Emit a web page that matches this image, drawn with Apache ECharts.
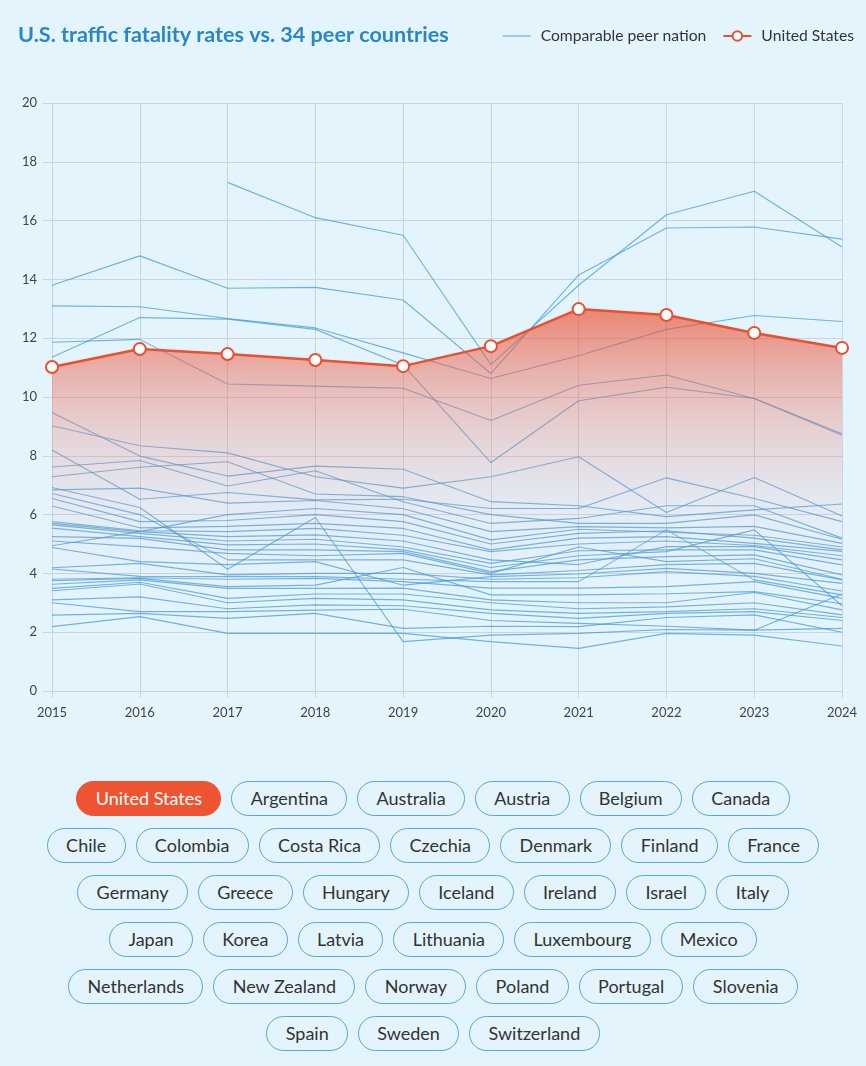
<!DOCTYPE html>
<html>
<head>
<meta charset="utf-8">
<script src="https://cdn.jsdelivr.net/npm/echarts@6/dist/echarts.min.js"></script>
<style>
html, body { margin: 0; padding: 0; background: #e3f4fd; font-family: Lato, "Noto Sans", sans-serif; }
#chart { width: 866px; height: 750px; }
#pills { position: absolute; left: 0; top: 781px; width: 866px; }
.row { display: flex; justify-content: center; align-items: flex-start; gap: 10px; height: 47px; }
.pill { height: 33px; line-height: 33px; padding: 0 18.3px; border: 1.5px solid #58a7d5; border-radius: 19px;
        font-size: 18px; color: #333; white-space: nowrap; }
.pill.on { background: #ef5432; border-color: #ef5432; color: #fff; }
</style>
</head>
<body>
<div id="chart"></div>
<div id="pills"></div>
<script>
var years = ['2015', '2016', '2017', '2018', '2019', '2020', '2021', '2022', '2023', '2024'];
var yTicks = { min: 0, max: 20, interval: 2 };

// United States, deaths per 100k
var usRates = [11.02, 11.63, 11.46, 11.26, 11.05, 11.73, 12.99, 12.79, 12.18, 11.67];

// 34 peer nations (one line each)
var peerRates = [
    [null, null, 17.3, 16.1, 15.5, 11.1, 13.8, 16.2, 17.0, 15.1],
    [13.8, 14.8, 13.7, 13.73, 13.3, 10.8, 14.15, 15.75, 15.78, 15.37],
    [13.1, 13.07, 12.67, 12.35, 11.5, 10.63, 11.4, 12.3, 12.77, 12.57],
    [11.35, 12.7, 12.65, 12.3, 11.09, 7.77, 9.87, 10.33, 9.95, 8.7],
    [11.86, 11.96, 10.44, 10.37, 10.3, 9.2, 10.4, 10.75, 9.95, 8.75],
    [9.47, 7.99, 7.31, 7.65, 7.54, 6.44, 6.3, 5.93, 6.16, 6.36],
    [9.02, 8.34, 8.1, 7.29, 6.9, 7.29, 7.97, 6.07, 7.26, 5.95],
    [8.2, 6.52, 6.75, 6.5, 6.52, 6.21, 6.21, 7.25, 6.55, 5.76],
    [7.62, 7.84, 6.97, 7.49, 6.44, 5.7, 5.87, 6.3, 6.3, 5.2],
    [7.29, 7.61, 7.8, 6.7, 6.61, 6.0, 5.7, 5.7, 5.99, 5.16],
    [6.92, 6.24, 4.14, 5.9, 1.68, 1.9, 1.96, 2.09, 2.07, 2.13],
    [6.84, 6.9, 6.39, 6.48, 6.2, 5.42, 5.59, 5.55, 5.6, 5.02],
    [4.94, 5.42, 6.0, 6.21, 6.0, 5.14, 5.5, 5.4, 5.3, 4.9],
    [6.55, 5.76, 5.8, 6.0, 5.76, 5.0, 5.36, 5.45, 5.2, 4.8],
    [6.29, 5.55, 5.6, 5.7, 5.53, 4.8, 5.2, 5.25, 5.02, 4.75],
    [5.76, 5.45, 5.42, 5.53, 5.3, 4.74, 5.0, 5.1, 4.95, 4.6],
    [5.7, 5.42, 5.25, 5.31, 5.1, 4.46, 4.3, 4.91, 4.91, 4.46],
    [5.65, 5.36, 5.1, 5.16, 4.9, 4.34, 4.77, 4.8, 4.8, 4.29],
    [5.54, 5.25, 4.97, 5.0, 4.8, 4.2, 4.6, 4.74, 5.48, 2.9],
    [5.25, 5.19, 4.8, 4.8, 4.74, 4.06, 4.46, 4.57, 4.63, 3.95],
    [5.1, 4.91, 4.68, 4.6, 4.68, 4.0, 4.9, 4.4, 4.5, 3.8],
    [6.72, 6.0, 4.46, 4.46, 4.46, 3.95, 4.1, 4.3, 4.34, 3.78],
    [4.88, 4.4, 4.3, 4.4, 3.6, 3.89, 3.98, 4.17, 4.0, 3.66],
    [4.19, 4.34, 3.95, 4.0, 4.0, 3.8, 3.85, 4.06, 3.9, 3.4],
    [4.15, 3.9, 3.89, 3.89, 3.8, 3.72, 3.72, 5.48, 3.78, 3.27],
    [3.8, 3.85, 3.8, 3.83, 3.72, 3.5, 3.5, 3.55, 3.72, 3.15],
    [3.75, 3.83, 3.55, 3.6, 4.2, 3.27, 3.27, 3.31, 3.38, 2.97],
    [3.63, 3.78, 3.49, 3.49, 3.5, 3.1, 3.0, 3.0, 3.35, 2.76],
    [3.49, 3.7, 3.15, 3.3, 3.3, 3.0, 2.8, 2.86, 3.0, 2.59],
    [3.41, 3.64, 3.0, 3.15, 3.1, 2.76, 2.64, 2.7, 2.8, 2.5],
    [3.1, 3.2, 2.8, 2.93, 2.9, 2.64, 2.47, 2.64, 2.7, 2.4],
    [3.0, 2.7, 2.7, 2.75, 2.78, 2.4, 2.3, 2.2, 2.07, 3.3],
    [2.58, 2.64, 2.47, 2.64, 2.13, 2.2, 2.19, 2.5, 2.59, 2.0],
    [2.19, 2.53, 1.96, 1.96, 1.96, 1.68, 1.45, 1.96, 1.9, 1.53]
];

var countries = ['United States', 'Argentina', 'Australia', 'Austria', 'Belgium', 'Canada',
    'Chile', 'Colombia', 'Costa Rica', 'Czechia', 'Denmark', 'Finland', 'France',
    'Germany', 'Greece', 'Hungary', 'Iceland', 'Ireland', 'Israel', 'Italy',
    'Japan', 'Korea', 'Latvia', 'Lithuania', 'Luxembourg', 'Mexico',
    'Netherlands', 'New Zealand', 'Norway', 'Poland', 'Portugal', 'Slovenia',
    'Spain', 'Sweden', 'Switzerland'];
var rowSizes = [6, 7, 7, 6, 6, 3];

var peerName = 'Comparable peer nation';
var usName = 'United States';
var gridColor = '#c9d4de';

function myChart() {
    var chart = echarts.init(document.getElementById('chart'));

    var series = peerRates.map(function (d) {
        return {
            name: peerName,
            type: 'line',
            data: d,
            symbol: 'none',
            silent: true,
            lineStyle: { color: 'rgba(66,152,208,0.72)', width: 1.1 },
            itemStyle: { color: '#9ccde9' },
            z: 2
        };
    });
    series.push({
        name: usName,
        type: 'line',
        data: usRates,
        symbol: 'circle',
        symbolSize: 12,
        showAllSymbol: true,
        lineStyle: { color: '#e9502f', width: 2.5 },
        itemStyle: { color: '#ffffff', borderColor: '#e9502f', borderWidth: 2 },
        areaStyle: {
            // red fade down from the US line
            color: new echarts.graphic.LinearGradient(0, 0, 0, 1, [
                { offset: 0, color: 'rgba(238,78,46,0.95)' },
                { offset: 0.25, color: 'rgba(238,110,90,0.5)' },
                { offset: 0.55, color: 'rgba(235,160,170,0.12)' },
                { offset: 0.8, color: 'rgba(230,200,220,0)' }
            ])
        },
        z: 5
    });

    var option = {
        backgroundColor: '#e3f4fd',
        animation: false,
        textStyle: { fontFamily: 'Lato' },
        title: {
            text: 'U.S. traffic fatality rates vs. 34 peer countries',
            left: 13,
            top: 19,
            textStyle: { fontSize: 21.6, fontWeight: 'bold', color: '#2a87c6', fontFamily: 'Lato' }
        },
        legend: {
            right: 7,
            top: 23,
            itemWidth: 28,
            itemHeight: 12,
            itemGap: 16,
            textStyle: { fontSize: 15.7, color: '#333', padding: [0, 0, 0, 5] },
            data: [
                { name: peerName, itemStyle: { opacity: 0 }, lineStyle: { color: '#9ccde9', width: 2 } },
                { name: usName }
            ]
        },
        grid: { left: 52, right: 24, top: 103, bottom: 59 },
        xAxis: {
            type: 'category',
            boundaryGap: false,
            data: years,
            axisLine: { show: false },
            axisTick: { show: true, length: 7, lineStyle: { color: gridColor } },
            axisLabel: { color: '#444', fontSize: 13, margin: 15 },
            splitLine: { show: true, lineStyle: { color: gridColor } }
        },
        yAxis: {
            type: 'value',
            min: yTicks.min,
            max: yTicks.max,
            interval: yTicks.interval,
            axisLine: { show: false },
            axisTick: { show: true, length: 9, lineStyle: { color: gridColor } },
            axisLabel: { color: '#444', fontSize: 13, margin: 15 },
            splitLine: { lineStyle: { color: gridColor } }
        },
        series: series
    };
    chart.setOption(option);
}
myChart();

// country buttons below the chart
var box = document.getElementById('pills');
var k = 0;
rowSizes.forEach(function (n) {
    var row = document.createElement('div');
    row.className = 'row';
    for (var i = 0; i < n; i++, k++) {
        var p = document.createElement('span');
        p.className = 'pill' + (k === 0 ? ' on' : '');
        p.textContent = countries[k];
        row.appendChild(p);
    }
    box.appendChild(row);
});
</script>
</body>
</html>
